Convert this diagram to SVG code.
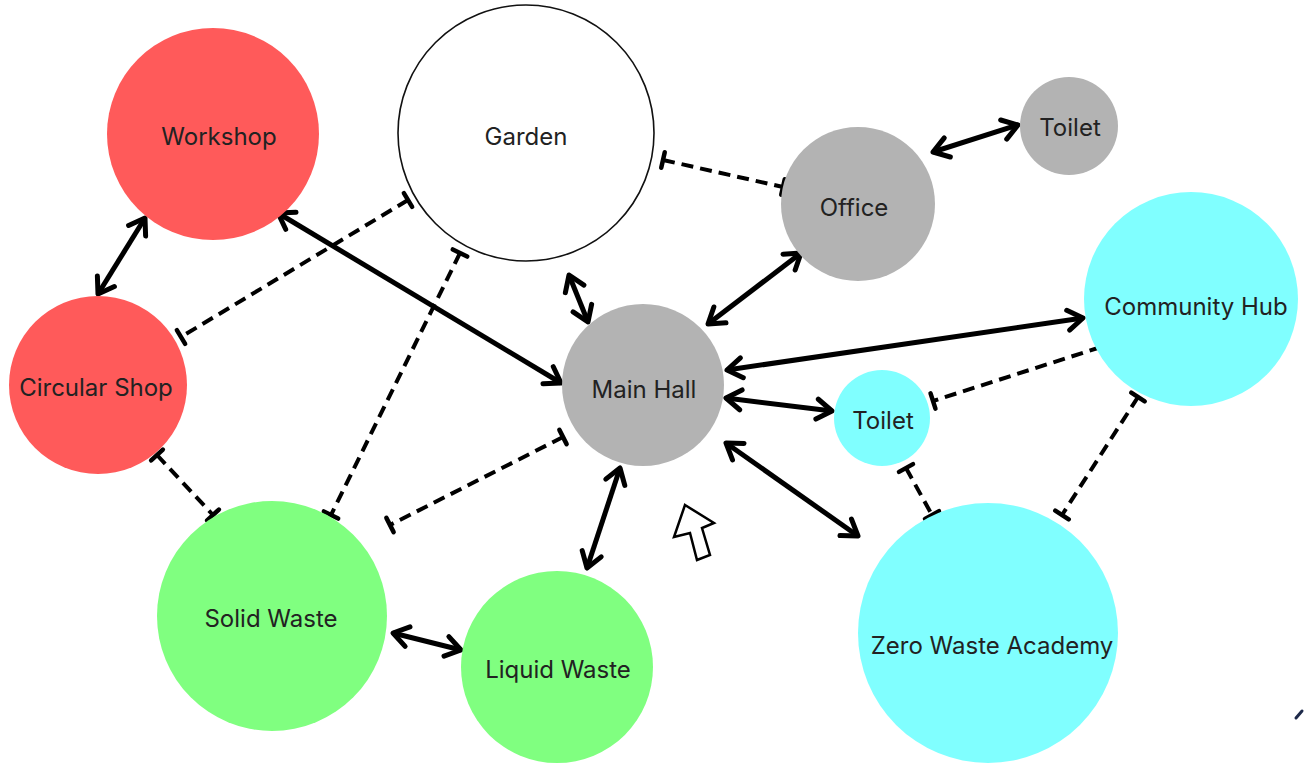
<svg xmlns="http://www.w3.org/2000/svg" width="1308" height="763" viewBox="0 0 1308 763">
<defs>
<style>
.red{fill:#FF5A5A}
.grey{fill:#B3B3B3}
.cyan{fill:#80FFFF}
.green{fill:#80FF80}
.white{fill:#FFFFFF;stroke:#111;stroke-width:1.6}
text{font-family:Inter,"Open Sans","Liberation Sans",sans-serif;font-size:24px;font-weight:400;fill:#222;text-anchor:middle;dominant-baseline:central}
.solid{stroke:#000;stroke-width:5;fill:none;marker-start:url(#arr);marker-end:url(#arr)}
.dash{stroke:#000;stroke-width:4;fill:none;stroke-dasharray:12 7;marker-start:url(#tee);marker-end:url(#tee)}
</style>
<marker id="arr" viewBox="0 0 26 26" markerWidth="26" markerHeight="26" refX="22" refY="13" orient="auto-start-reverse" markerUnits="userSpaceOnUse">
<path d="M7,3 L22,13 L7,23" fill="none" stroke="#000" stroke-width="5" stroke-linecap="round" stroke-linejoin="round"/>
</marker>
<marker id="tee" viewBox="0 0 22 22" markerWidth="22" markerHeight="22" refX="11" refY="11" orient="auto" markerUnits="userSpaceOnUse">
<path d="M11,3 L11,19" fill="none" stroke="#000" stroke-width="4.5" stroke-linecap="round"/>
</marker>
</defs>
<rect width="1308" height="763" fill="#FFFFFF"/>
<g id="connectors">
<line class="solid" x1="145" y1="218" x2="98" y2="294"/>
<line class="solid" x1="278" y1="213" x2="561" y2="383"/>
<line class="solid" x1="569" y1="275" x2="588" y2="322"/>
<line class="solid" x1="801" y1="253" x2="708" y2="324"/>
<line class="solid" x1="933" y1="152" x2="1018" y2="125"/>
<line class="solid" x1="727" y1="370" x2="1083" y2="318"/>
<line class="solid" x1="726" y1="398" x2="832" y2="411"/>
<line class="solid" x1="726" y1="443" x2="858" y2="536"/>
<line class="solid" x1="620" y1="468" x2="587" y2="568"/>
<line class="solid" x1="393" y1="633" x2="461" y2="650"/>
<line class="dash" x1="663" y1="160" x2="783" y2="187"/>
<line class="dash" x1="408" y1="200" x2="181" y2="337"/>
<line class="dash" x1="460" y1="253" x2="331" y2="515"/>
<line class="dash" x1="157" y1="455" x2="213" y2="515"/>
<line class="dash" x1="563" y1="437" x2="390" y2="525"/>
<line class="dash" x1="1101" y1="347" x2="933" y2="401"/>
<line class="dash" x1="1138" y1="397" x2="1062" y2="515"/>
<line class="dash" x1="906" y1="468" x2="932" y2="515"/>
</g>
<g id="workshop"><circle class="red" cx="213" cy="134" r="106"/><text x="219" y="136">Workshop</text></g>
<g id="garden"><circle class="white" cx="526" cy="133" r="128"/><text x="526" y="136">Garden</text></g>
<g id="office"><circle class="grey" cx="858" cy="204" r="77"/><text x="854" y="207">Office</text></g>
<g id="toilet-top"><circle class="grey" cx="1069" cy="126" r="49"/><text x="1070" y="127">Toilet</text></g>
<g id="community-hub"><circle class="cyan" cx="1191" cy="299" r="107"/><text x="1196" y="306">Community Hub</text></g>
<g id="circular-shop"><circle class="red" cx="98" cy="385" r="89"/><text x="96" y="387">Circular Shop</text></g>
<g id="main-hall"><circle class="grey" cx="643" cy="385" r="81"/><text x="644" y="389">Main Hall</text></g>
<g id="toilet-cyan"><circle class="cyan" cx="882" cy="418" r="48"/><text x="883" y="420">Toilet</text></g>
<g id="zero-waste-academy"><circle class="cyan" cx="988" cy="633" r="130"/><text x="992" y="645">Zero Waste Academy</text></g>
<g id="solid-waste"><circle class="green" cx="272" cy="616" r="115"/><text x="271" y="618">Solid Waste</text></g>
<g id="liquid-waste"><circle class="green" cx="557" cy="667" r="96"/><text x="558" y="669">Liquid Waste</text></g>
<g id="cursor"><path d="M685,505 L714,523 L702,528 L710,555 L697,560 L690,533 L674,537 Z" fill="#FFFFFF" stroke="#000" stroke-width="2.5" stroke-linejoin="miter"/></g>
<line x1="1296" y1="718" x2="1302" y2="711" stroke="#1e2a4a" stroke-width="3" stroke-linecap="round"/>
</svg>
